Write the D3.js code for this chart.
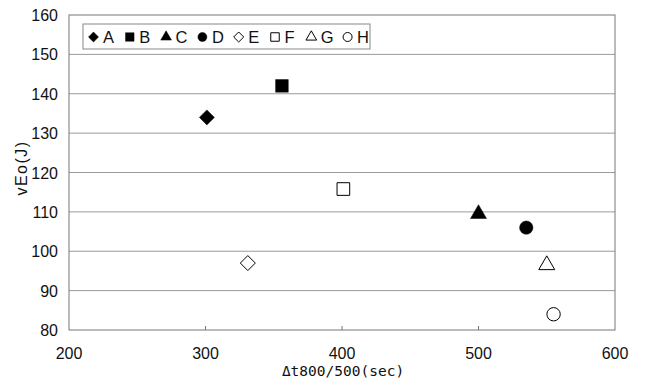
<!DOCTYPE html>
<html>
<head>
<meta charset="utf-8">
<script src="https://cdn.jsdelivr.net/npm/d3@7"></script>
<style>
  body { margin: 0; background: #fff; }
  text { font-family: "Liberation Sans", Arial, sans-serif; fill: #111; }
</style>
</head>
<body>
<div id="chart"></div>
<script>
// data
const labels = ["A", "B", "C", "D", "E", "F", "G", "H"];
const xValues = [301, 356, 500, 535, 331, 401, 550, 555];
const yValues = [134, 142, 109.5, 106, 97, 115.8, 96.5, 84];
const shapes = ["diamond", "square", "triangle", "circle", "diamond", "square", "triangle", "circle"];
const filled = [true, true, true, true, false, false, false, false];
const xTicks = [200, 300, 400, 500, 600];
const yTicks = [80, 90, 100, 110, 120, 130, 140, 150, 160];

const W = 649, H = 385;
const margin = {top: 15, right: 34, bottom: 55, left: 69};
const width = W - margin.left - margin.right;
const height = H - margin.top - margin.bottom;

const svg = d3.select("#chart").append("svg")
    .attr("width", W)
    .attr("height", H);

const g = svg.append("g")
    .attr("transform", "translate(" + margin.left + "," + margin.top + ")");

const x = d3.scaleLinear().domain([200, 600]).range([0, width]);
const y = d3.scaleLinear().domain([80, 160]).range([height, 0]);

// horizontal grid
g.selectAll(".grid")
    .data(yTicks.slice(1, -1))
    .enter().append("line")
    .attr("class", "grid")
    .attr("x1", 0).attr("x2", width)
    .attr("y1", d => y(d)).attr("y2", d => y(d))
    .attr("stroke", "#9a9a9a").attr("stroke-width", 1);

// frame
g.append("rect")
    .attr("width", width).attr("height", height)
    .attr("fill", "none").attr("stroke", "#777").attr("stroke-width", 1);

// x ticks (inside) and labels
g.selectAll(".xtick")
    .data(xTicks.slice(1, -1))
    .enter().append("line")
    .attr("x1", d => x(d)).attr("x2", d => x(d))
    .attr("y1", height).attr("y2", height - 4)
    .attr("stroke", "#777");

g.selectAll(".xlab")
    .data(xTicks)
    .enter().append("text")
    .attr("x", d => x(d))
    .attr("y", height + 29)
    .attr("text-anchor", "middle")
    .style("font-size", "16px")
    .text(d => d);

g.selectAll(".ylab")
    .data(yTicks)
    .enter().append("text")
    .attr("x", -11)
    .attr("y", d => y(d) + 6)
    .attr("text-anchor", "end")
    .style("font-size", "16px")
    .text(d => d);

// axis titles
svg.append("text")
    .attr("x", margin.left + x(400) + 1)
    .attr("y", 376)
    .attr("text-anchor", "middle")
    .style("font-family", "'DejaVu Sans Mono', monospace")
    .style("font-size", "14.5px")
    .text("\u0394t800/500(sec)");

svg.append("text")
    .attr("transform", "translate(27,168) rotate(-90)")
    .attr("text-anchor", "middle")
    .style("font-size", "16px")
    .style("letter-spacing", "1.5px")
    .text("vEo(J)");

// symbols
const symType = {
    square: d3.symbolSquare,
    triangle: d3.symbolTriangle,
    circle: d3.symbolCircle
};
const symSize = {diamond: 7.5, square: 160, triangle: 110, circle: 140};

const points = labels.map((l, i) => ({
    label: l, x: xValues[i], y: yValues[i], shape: shapes[i], filled: filled[i]
}));

function symPath(d, scale) {
    if (d.shape === "diamond") {
        const r = symSize.diamond * Math.sqrt(scale);
        return "M0," + (-r) + "L" + r + ",0L0," + r + "L" + (-r) + ",0Z";
    }
    return d3.symbol().type(symType[d.shape]).size(symSize[d.shape] * scale)();
}

function drawSymbol(sel, scale) {
    sel.attr("d", d => symPath(d, scale))
        .attr("fill", d => d.filled ? "#000" : "#fff")
        .attr("stroke", "#000")
        .attr("stroke-width", d => d.filled ? 0.5 : 1);
}

g.selectAll(".pt")
    .data(points)
    .enter().append("path")
    .attr("class", "pt")
    .attr("transform", d => "translate(" + x(d.x) + "," + y(d.y) + ")")
    .call(drawSymbol, 1);

// legend
const legend = svg.append("g").attr("transform", "translate(83,24)");
legend.append("rect")
    .attr("width", 287).attr("height", 25)
    .attr("fill", "#fff").attr("stroke", "#888");

const step = 36.3;
const items = legend.selectAll(".item")
    .data(points)
    .enter().append("g")
    .attr("transform", (d, i) => "translate(" + (10.5 + i * step) + ",13)");

items.append("path").call(drawSymbol, 0.45);

items.append("text")
    .attr("x", 9.5)
    .attr("y", 6)
    .style("font-size", "16.5px")
    .text(d => d.label);
</script>
</body>
</html>
